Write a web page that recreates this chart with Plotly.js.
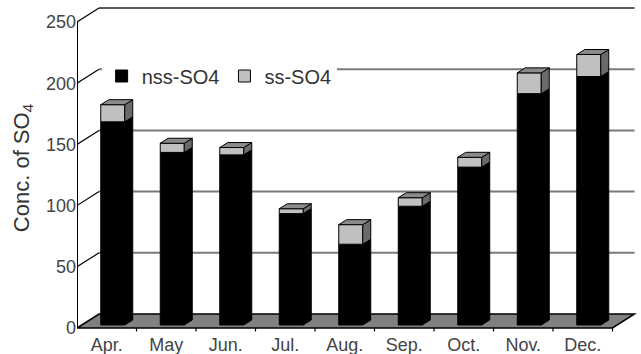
<!DOCTYPE html>
<html>
<head>
<meta charset="utf-8">
<script src="https://cdn.plot.ly/plotly-3.0.1.min.js"></script>
<style>html,body{margin:0;padding:0;background:#fff;}#chart{width:641px;height:354px;}</style>
</head>
<body>
<div id="chart"></div>
<script>
// ---- data ----
const categories = ['Apr.', 'May', 'Jun.', 'Jul.', 'Aug.', 'Sep.', 'Oct.', 'Nov.', 'Dec.'];
const nss = [166, 141, 139, 91, 66, 97, 129, 189, 203];
const ss = [14, 7.5, 6, 4, 16, 7, 8, 17, 18];
const yTicks = [0, 50, 100, 150, 200, 250];
const seriesNames = ['nss-SO4', 'ss-SO4'];

// ---- geometry (pixel-based pseudo 3D) ----
const PXX = 59.5, PXY = 1.224;
const ML = 77, MR = 4, MT = 4, MB = 22, W = 641, H = 354;
const plotW = W - ML - MR, plotH = H - MT - MB;
const xmin = -0.5, xmax = xmin + plotW / PXX;
const ymin = -(H - MB - 328) / PXY, ymax = ymin + plotH / PXY;
const FDX = 22 / PXX, FDY = 14 / PXY;       // floor / wall depth
const BDX = 8 / PXX, BDY = 5 / PXY;         // bar depth
const BAR_W = 24 / PXX, BAR_SHIFT = 6 / PXX, BAR_BASE = 3 / PXY;
const n = categories.length;
const xIdx = categories.map((c, i) => i);
const xEnd = n - 0.5;

const sideN = {x: [], y: []}, sideS = {x: [], y: []}, topFace = {x: [], y: []};
xIdx.forEach(i => {
  const xl = i + BAR_SHIFT - BAR_W / 2, xr = xl + BAR_W;
  const b = BAR_BASE, m = b + nss[i], t = m + ss[i];
  sideN.x.push(xr, xr + BDX, xr + BDX, xr, xr, null);
  sideN.y.push(b, b + BDY, m + BDY, m, b, null);
  sideS.x.push(xr, xr + BDX, xr + BDX, xr, xr, null);
  sideS.y.push(m, m + BDY, t + BDY, t, m, null);
  topFace.x.push(xl, xr, xr + BDX, xl + BDX, xl, null);
  topFace.y.push(t, t, t + BDY, t + BDY, t, null);
});

const traces = [
  {type: 'bar', name: seriesNames[0], x: xIdx, y: nss, base: xIdx.map(() => BAR_BASE),
   width: BAR_W, offset: BAR_SHIFT - BAR_W / 2,
   marker: {color: '#000000', line: {color: '#000000', width: 1}}, hoverinfo: 'skip'},
  {type: 'bar', name: seriesNames[1], x: xIdx, y: ss, base: nss.map(v => BAR_BASE + v),
   width: BAR_W, offset: BAR_SHIFT - BAR_W / 2,
   marker: {color: '#c0c0c0', line: {color: '#000000', width: 1}}, hoverinfo: 'skip'},
  {type: 'scatter', mode: 'lines', x: sideN.x, y: sideN.y, fill: 'toself', fillcolor: '#000000',
   line: {color: '#000000', width: 1}, showlegend: false, hoverinfo: 'skip'},
  {type: 'scatter', mode: 'lines', x: sideS.x, y: sideS.y, fill: 'toself', fillcolor: '#6a6a6a',
   line: {color: '#000000', width: 1}, showlegend: false, hoverinfo: 'skip'},
  {type: 'scatter', mode: 'lines', x: topFace.x, y: topFace.y, fill: 'toself', fillcolor: '#8a8a8a',
   line: {color: '#000000', width: 1}, showlegend: false, hoverinfo: 'skip'}
];

const shapes = [];
// floor
shapes.push({type: 'path', layer: 'below', xref: 'x', yref: 'y',
  path: `M${xmin},0 L${xEnd},0 L${xEnd + FDX},${FDY} L${xmin + FDX},${FDY} Z`,
  fillcolor: '#808080', line: {color: '#000000', width: 1.5}});
yTicks.forEach(v => {
  if (v > 0) {
    shapes.push({type: 'line', layer: 'below', xref: 'x', yref: 'y',
      x0: xmin + FDX, x1: xEnd + FDX, y0: v + FDY, y1: v + FDY,
      line: {color: v === yTicks[yTicks.length - 1] ? '#5a5a5a' : '#7a7a7a', width: 2}});
    shapes.push({type: 'line', layer: 'below', xref: 'x', yref: 'y',
      x0: xmin, x1: xmin + FDX, y0: v, y1: v + FDY, line: {color: '#000000', width: 1.2}});
  }
});
// boundary ticks on floor front edge
xIdx.forEach(i => {
  shapes.push({type: 'line', layer: 'above', xref: 'x', yref: 'y',
    x0: i + 0.5, x1: i + 0.5, y0: 0, y1: -3.5 / PXY, line: {color: '#000000', width: 1.2}});
});
// front value axis
shapes.push({type: 'line', layer: 'above', xref: 'x', yref: 'y',
  x0: xmin, x1: xmin, y0: 0, y1: yTicks[yTicks.length - 1], line: {color: '#000000', width: 2}});

const layout = {
  width: W, height: H,
  margin: {l: ML, r: MR, t: MT, b: MB, pad: 0},
  paper_bgcolor: '#ffffff', plot_bgcolor: '#ffffff',
  barmode: 'overlay',
  font: {family: 'Liberation Sans, Arial, sans-serif', color: '#444444', size: 18},
  xaxis: {range: [xmin, xmax], tickmode: 'array', tickvals: xIdx, ticktext: categories,
    showgrid: false, zeroline: false, showline: false, ticks: '', fixedrange: true,
    tickfont: {size: 18, color: '#444444'}},
  yaxis: {range: [ymin, ymax], tickmode: 'array', tickvals: yTicks, ticktext: yTicks.map(String),
    showgrid: false, zeroline: false, showline: false, ticks: '', fixedrange: true,
    tickfont: {size: 18, color: '#444444'},
    title: {text: 'Conc. of SO<sub>4</sub>', font: {size: 22, color: '#333333'}, standoff: 10}},
  showlegend: true,
  legend: {orientation: 'h', x: 0.044, xanchor: 'left', y: (H - MB - 76) / plotH, yanchor: 'middle',
    bgcolor: '#ffffff', borderwidth: 0, font: {size: 20, color: '#333333'}, traceorder: 'normal'},
  shapes: shapes
};

Plotly.newPlot('chart', traces, layout, {displayModeBar: false, staticPlot: true});
</script>
</body>
</html>
